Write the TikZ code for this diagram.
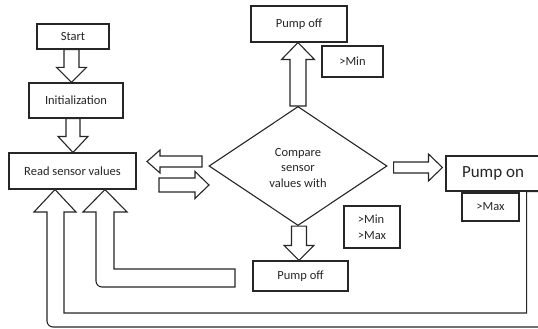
\documentclass[tikz,border=0pt]{standalone}
\usepackage{fontspec}
\setmainfont{Carlito}
\usetikzlibrary{shapes.geometric,calc}

\tikzset{
  shaftw/.store in=\blkshaft, headw/.store in=\blkwide, headl/.store in=\blkhead,
  shaftw=7.5pt, headw=15pt, headl=15pt,
}

\begin{document}
\begin{tikzpicture}[x=1pt,y=-1pt,
  box/.style ={rectangle,draw=black!85,line width=1.1pt,fill=white,inner sep=0pt,
               text=black!85,align=center,font=\fontsize{12.5}{15.5}\selectfont},
  dec/.style ={diamond,draw=black!85,line width=1.1pt,fill=white,inner sep=0pt,
               text=black!85,align=center,font=\fontsize{12.5}{15.5}\selectfont},
  blk/.style ={draw=black!85,line width=1.1pt,fill=white,line join=miter,
               to path={let \p1=(\tikztostart),\p2=(\tikztotarget),
                            \p3=($(\p2)!\blkhead!(\p1)$) in
                 ($(\p1)!\blkshaft!90:(\p2)$) -- ($(\p3)!\blkshaft!90:(\p2)$)
                 -- ($(\p3)!\blkwide!90:(\p2)$) -- (\p2)
                 -- ($(\p3)!\blkwide!-90:(\p2)$) -- ($(\p3)!\blkshaft!-90:(\p2)$)
                 -- ($(\p1)!\blkshaft!-90:(\p2)$) -- cycle}},
  bent/.style={draw=black!85,line width=1.1pt,fill=white,line join=miter},
]
\clip (0,0) rectangle (538,329);

%% ─── left column ─────────────────────────────────────────────────────────────
\node[box,minimum width=72pt,minimum height=25pt]  (start) at (73,36.5)  {Start};
\node[box,minimum width=94pt,minimum height=35pt]  (init)  at (76,100.5) {Initialization};
\node[box,minimum width=127pt,minimum height=36pt] (read)  at (72.5,171) {Read sensor values};

\draw[blk] ([xshift=-1.5pt]start.south) to ([xshift=-1.5pt]start.south |- init.north);
\draw[blk,shaftw=7pt,headl=16pt] ([xshift=-3pt]init.south) to ([xshift=-3pt]init.south |- read.north);

%% ─── decision ────────────────────────────────────────────────────────────────
\node[dec,minimum width=178pt,minimum height=119pt] (cmp) at (298,166)
     {\\[-4pt]Compare\\sensor\\values with};

\coordinate (lt) at (202,161.5);
\coordinate (lh) at (147,161.5);
\coordinate (rt) at (159,185);
\coordinate (rh) at (209,185);
\draw[blk,shaftw=5.5pt,headw=11.5pt,headl=13pt] (lt) to (lh);
\draw[blk,shaftw=7pt,headw=13.5pt,headl=14pt] (rt) to (rh);

%% ─── outcomes ────────────────────────────────────────────────────────────────
\node[box,minimum width=96pt,minimum height=36pt] (offtop) at (299,24)    {Pump off};
\node[box,minimum width=61pt,minimum height=31pt] (gtmin)  at (352.5,61.5) {>Min};
\node[box,minimum width=95pt,minimum height=30pt] (offbot) at (300.5,276) {Pump off};
\node[box,minimum width=56pt,minimum height=42pt,align=left] (lim) at (372,227) {>Min\\>Max};
\node[box,minimum width=94pt,minimum height=35pt,font=\fontsize{17}{20}\selectfont]
     (pumpon) at (493,173.5) {Pump on};
\node[box,minimum width=57pt,minimum height=28pt] (gtmax) at (490.5,207) {>Max};

\draw[blk,shaftw=8pt,headw=16.5pt,headl=17pt] (cmp.north) to (cmp.north |- offtop.south);
\draw[blk] ([xshift=1pt]cmp.south) to ([xshift=1pt]cmp.south |- offbot.north);
\draw[blk,shaftw=5.5pt,headw=13.5pt,headl=14pt]
     ([xshift=6pt,yshift=-1.5pt]cmp.east) to ([xshift=-3pt,yshift=-1.5pt]cmp.east -| pumpon.west);

%% ─── feedback to reading ─────────────────────────────────────────────────────
\coordinate (fa) at ([xshift=32.5pt]read.south);
\coordinate (fb) at ([xshift=-17.5pt]read.south);

\draw[bent] (96,250) [rounded corners=6pt] -- (96,287) -- (160,287) [sharp corners]
  -- (235,287) -- (235,269) -- (114,269) -- (114,212) -- (127,212) -- (fa)
  -- (83,212) -- (96,212) -- cycle;

\draw[bent] (47,260) [rounded corners=6pt] -- (47,327) -- (300,327) [sharp corners]
  -- (pumpon.south east |- 0,327) -- (pumpon.south east)
  -- ([xshift=-14pt]pumpon.south east) -- ([xshift=-14pt]pumpon.south east |- 0,313)
  -- (64,313) -- (64,212) -- (76,212) -- (fb) -- (34,212) -- (47,212) -- cycle;

\end{tikzpicture}
\end{document}
